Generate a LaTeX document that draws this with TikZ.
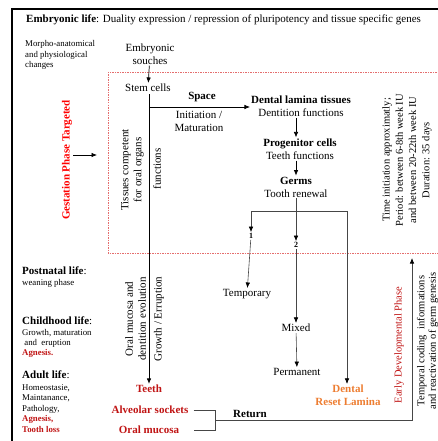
\documentclass[tikz,border=0pt]{standalone}
\usepackage{fontspec}
\setmainfont{Liberation Serif}
\usetikzlibrary{arrows.meta}
\definecolor{darkred}{RGB}{192,20,20}
\definecolor{orangetx}{RGB}{237,125,49}
\definecolor{dashred}{RGB}{228,110,110}
\definecolor{linegray}{RGB}{70,70,70}

\begin{document}
\begin{tikzpicture}[x=1pt, y=-1pt,
	txt/.style={font=\fontsize{11}{13}\selectfont, inner sep=1pt, align=center},
	bold/.style={txt, font=\fontsize{11}{13}\selectfont\bfseries},
	note/.style={font=\fontsize{8.8}{10.4}\selectfont, inner sep=0pt, align=left, anchor=west},
	head/.style={font=\fontsize{11}{13}\selectfont, inner sep=0pt, anchor=west},
	vert/.style={txt, rotate=90},
	arr/.style={-{Latex[length=5.5pt, width=4.5pt, color=black]}, line width=0.7pt},
	gline/.style={line width=0.6pt, color=linegray}]
			%%%%% START %%%%%
			\useasboundingbox (0, 0) rectangle (437, 441);
			
			\draw[line width=2pt] (470, 9) -- (12, 9) -- (12, 470);
			\draw[color=dashred, line width=0.5pt, dash pattern=on 1.5pt off 1pt] (108, 72) rectangle (470, 253);
			
			\node[head] (title) at (26, 20) {\textbf{Embryonic life}: Duality expression / repression of pluripotency and tissue specific genes};
			\node[note] (morpho) at (25, 55) {Morpho-anatomical\\and physiological\\changes};
			
			\node[txt] (souches) at (150, 54) {Embryonic\\souches};
			\node[txt] (stem) at (148, 88) {Stem cells};
			\node[bold] (space) at (202, 97) {Space};
			\node[txt] (init) at (199, 121) {Initiation /\\Maturation};
			\node[txt] (lamina) at (301, 106.5) {\textbf{Dental lamina tissues}\\Dentition functions};
			\node[txt] (progen) at (300, 149) {\textbf{Progenitor cells}\\Teeth functions};
			\node[txt] (germs) at (296, 187) {\textbf{Germs}\\Tooth renewal};
			
			\node[bold, font=\fontsize{8}{9}\selectfont\bfseries] (one) at (251, 236) {1};
			\node[bold, font=\fontsize{8}{9}\selectfont\bfseries] (two) at (296, 245) {2};
			\node[txt] (temp) at (247, 294) {Temporary};
			\node[txt] (mixed) at (296, 328) {Mixed};
			\node[txt] (perm) at (297, 372) {Permanent};
			\node[bold, text=orangetx] (reset) at (348, 395.5) {Dental\\Reset Lamina};
			
			\node[bold, text=darkred] (teeth) at (149, 389) {Teeth};
			\node[bold, text=darkred] (sockets) at (150, 410) {Alveolar sockets};
			\node[bold, text=darkred] (mucosa) at (149, 430) {Oral mucosa};
			\node[bold] (return) at (250, 414) {Return};
			
			\node[vert, font=\fontsize{11}{13}\selectfont\bfseries, text=red] (gest) at (67, 160) {Gestation Phase Targeted};
			\node[vert] (tissues) at (132.5, 170) {Tissues competent\\for oral organs};
			\node[vert] (functions) at (157, 169) {functions};
			\node[vert] (evolution) at (135.5, 319) {Oral mucosa and\\dentition evolution};
			\node[vert] (growth) at (159, 319) {Growth / Erruption};
			\node[vert, font=\fontsize{10.5}{13.3}\selectfont] (timeinit) at (407, 160) {Time initiation approximatly;\\Period: between 6-8th week IU\\and between 20-22th week IU\\Duration: 35 days};
			\node[vert, font=\fontsize{10.5}{12}\selectfont, text=darkred] (early) at (399, 345) {Early Developmental Phase};
			\node[vert, font=\fontsize{10.5}{11.5}\selectfont] (temporal) at (427.5, 341) {Temporal coding\ \ informations\\and reactivation of germ genesis};
			
			\node[head] (postnatal) at (22, 271) {\textbf{Postnatal life}:};
			\node[note] (weaning) at (22, 283) {weaning phase};
			\node[head] (childhood) at (22, 321) {\textbf{Childhood life}:};
			\node[note] (childnote) at (22, 343.5) {Growth, maturation\\\ and\ \ eruption\\\textcolor{darkred}{\textbf{Agnesis.}}};
			\node[head] (adult) at (22, 375) {\textbf{Adult life}:};
			\node[note] (adultnote) at (22, 408.5) {Homeostasie,\\Maintanance,\\Pathology,\\\textcolor{darkred}{\textbf{Agnesis,}}\\\textcolor{darkred}{\textbf{Tooth loss}}};
			
			\coordinate (branch) at (149, 107);
			\coordinate (gesttip) at (97, 155);
			\coordinate (barL) at (251, 211);
			\coordinate (barR) at (347, 211);
			\coordinate (brk) at (215, 420);
			\coordinate (corner) at (412, 420);
			\coordinate (earlytip) at (412, 258);
			
			\draw[arr] (souches) -- (stem);
			\draw[arr, line width=0.9pt] ([yshift=-1pt] stem.south -| branch) -- (teeth.north -| branch);
			\draw[arr] (branch) -- (branch -| lamina.west);
			\draw[arr] (gest.south |- gesttip) -- (gesttip);
			\draw[arr] (lamina.south -| 296, 0) -- (progen.north -| 296, 0);
			\draw[arr] (progen.south -| 296, 0) -- (germs.north -| 296, 0);
			\draw[gline, arr, line width=0.6pt] (barR) -- (barL) -- (one.north);
			\draw[gline, arr, line width=0.6pt] (barR) -- (reset.north -| barR);
			\draw[gline, arr, line width=0.6pt] (germs.south -| two) -- (two.north);
			\draw[gline, arr, line width=0.6pt] (one) -- (temp);
			\draw[gline, arr, line width=0.6pt] (two) -- (mixed);
			\draw[gline, arr, line width=0.6pt] (mixed) -- (perm);
			\draw[gline] ([xshift=4pt] sockets.east) -- (sockets.east -| brk) -- (brk |- mucosa.east) -- ([xshift=4pt] mucosa.east -| sockets.east);
			\draw[gline, arr, line width=0.7pt] (brk) -- (corner) -- (earlytip);
			
			%%%%% END %%%%%
		\end{tikzpicture}
\end{document}
